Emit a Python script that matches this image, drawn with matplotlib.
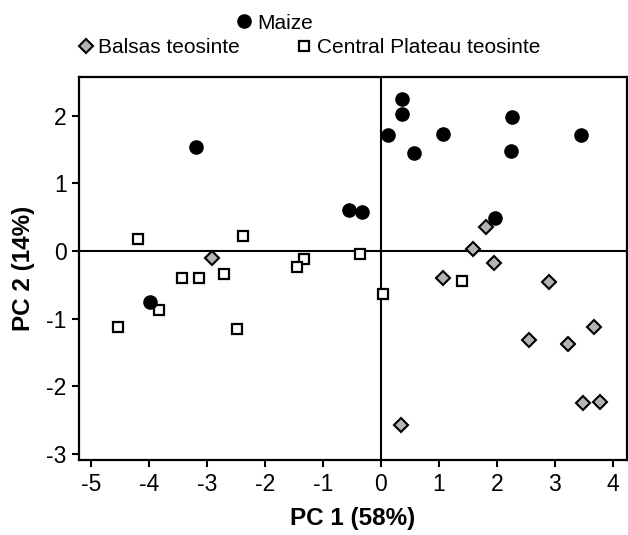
import matplotlib
matplotlib.use("Agg")
import matplotlib.pyplot as plt
from matplotlib.lines import Line2D

plt.rcParams['font.family'] = ['Liberation Sans', 'DejaVu Sans']
plt.rcParams['axes.unicode_minus'] = False

# PCA scores
maize_pc1 = [-3.19, -0.55, -0.32, -3.97, 0.37, 0.37, 0.13, 0.58, 1.07, 2.27, 2.25, 3.45, 1.97]
maize_pc2 = [1.53, 0.61, 0.57, -0.76, 2.25, 2.03, 1.71, 1.45, 1.73, 1.98, 1.47, 1.71, 0.49]

balsas_pc1 = [-2.91, 1.82, 1.59, 1.95, 1.08, 2.90, 2.56, 3.22, 3.67, 3.48, 3.78, 0.34]
balsas_pc2 = [-0.10, 0.35, 0.03, -0.18, -0.40, -0.46, -1.31, -1.37, -1.13, -2.25, -2.23, -2.57]

central_pc1 = [-4.18, -2.37, -3.43, -3.14, -2.71, -1.32, -1.44, -0.36, 0.04, -3.82, -4.53, -2.48, 1.40]
central_pc2 = [0.18, 0.22, -0.40, -0.40, -0.34, -0.12, -0.24, -0.04, -0.64, -0.87, -1.12, -1.15, -0.44]

x_ticks = [-5, -4, -3, -2, -1, 0, 1, 2, 3, 4]
y_ticks = [-3, -2, -1, 0, 1, 2]

fig = plt.figure(figsize=(6.28, 5.35), dpi=100)
ax = fig.add_axes([0.126, 0.140, 0.872, 0.716])

ax.axhline(0, color='black', lw=1.5, zorder=1)
ax.axvline(0, color='black', lw=1.5, zorder=1)

ax.plot(central_pc1, central_pc2, 's', ms=7, mfc='white', mec='black', mew=1.6, zorder=3)
ax.plot(balsas_pc1, balsas_pc2, 'D', ms=7.5, mfc='#b3b3b3', mec='black', mew=1.5, zorder=3)
ax.plot(maize_pc1, maize_pc2, 'o', ms=9.5, mfc='black', mec='black', zorder=4)

ax.set_xlim(-5.2, 4.24)
ax.set_ylim(-3.09, 2.57)
ax.set_xticks(x_ticks)
ax.set_yticks(y_ticks)
ax.tick_params(direction='out', length=5, width=1.5, labelsize=16.5, pad=4)
for s in ax.spines.values():
    s.set_linewidth(1.6)

ax.set_xlabel('PC 1 (58%)', fontsize=17.5, fontweight='bold', labelpad=8)
ax.set_ylabel('PC 2 (14%)', fontsize=17.5, fontweight='bold', labelpad=8)

h_maize = Line2D([], [], ls='none', marker='o', ms=9.5, mfc='black', mec='black')
h_bal = Line2D([], [], ls='none', marker='D', ms=7.5, mfc='#b3b3b3', mec='black', mew=1.5)
h_cen = Line2D([], [], ls='none', marker='s', ms=7, mfc='white', mec='black', mew=1.6)

leg1 = fig.legend([h_maize], ['Maize'], loc='center', bbox_to_anchor=(0.435, 0.957),
                  frameon=False, fontsize=15, handletextpad=0.1, handlelength=1.0,
                  borderpad=0, borderaxespad=0)
leg2 = fig.legend([h_bal, h_cen], ['Balsas teosinte', 'Central Plateau teosinte'],
                  loc='center', bbox_to_anchor=(0.49, 0.911), ncol=2, frameon=False,
                  fontsize=15, handletextpad=0.1, handlelength=1.0, columnspacing=2.6,
                  borderpad=0, borderaxespad=0)

fig.savefig('out.png', dpi=100)
